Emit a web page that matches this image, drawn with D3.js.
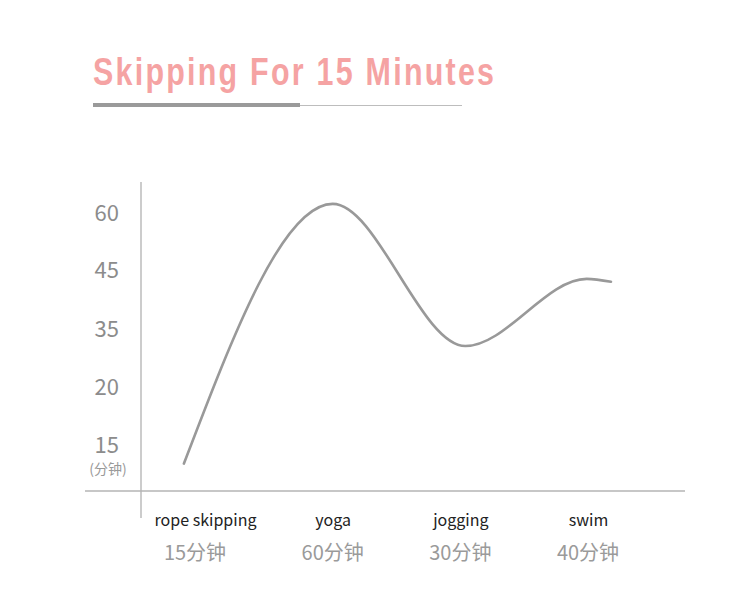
<!DOCTYPE html>
<html><head><meta charset="utf-8">
<script src="https://cdn.jsdelivr.net/npm/d3@7"></script>
<style>body{margin:0;background:#fff}svg{display:block}</style>
</head><body>
<svg id="c" width="750" height="611"></svg>
<script>
const title = "Skipping For 15 Minutes";
const categories = ["rope skipping", "yoga", "jogging", "swim"];
const durations = ["15分钟", "60分钟", "30分钟", "40分钟"];
const yTicks = [60, 45, 35, 20, 15];
const yUnit = "(分钟)";
// curve: position (category index) and value (minutes)
const curvePos = [-0.165, 1.0, 2.04, 2.99, 3.18];
const curveVal = [13.4, 62.4, 30.6, 43.5, 43.0];

const svg = d3.select("#c");
const x = d3.scaleLinear().domain([0, 3]).range([205, 588]);
const y = d3.scaleLinear().domain([15, 20, 35, 45, 60]).range([445, 387, 329, 270, 213]);

// title (condensed bold look)
const sx = 0.8;
svg.append("text").attr("transform", `translate(93,85) scale(${sx},1)`)
  .attr("font-family", "'Liberation Sans',Arial,sans-serif")
  .attr("font-weight", "bold").attr("font-size", 38)
  .attr("textLength", 401 / sx).attr("lengthAdjust", "spacing")
  .attr("fill", "#f5a3a3").text(title);
svg.append("line").attr("x1", 93).attr("x2", 300).attr("y1", 105).attr("y2", 105)
  .attr("stroke", "#9a9a9a").attr("stroke-width", 4);
svg.append("line").attr("x1", 300).attr("x2", 462).attr("y1", 105.5).attr("y2", 105.5)
  .attr("stroke", "#bdbdbd").attr("stroke-width", 1);

// axes lines
svg.append("line").attr("x1", 141).attr("x2", 141).attr("y1", 182).attr("y2", 518)
  .attr("stroke", "#aaa").attr("stroke-width", 1.2);
svg.append("line").attr("x1", 85).attr("x2", 685).attr("y1", 491).attr("y2", 491)
  .attr("stroke", "#b5b5b5").attr("stroke-width", 1.5);

// y axis labels
const ya = svg.append("g").attr("transform", "translate(141,0)")
  .call(d3.axisLeft(y).tickValues(yTicks).tickSize(0).tickPadding(22).tickFormat(d3.format("d")));
ya.select(".domain").remove();
ya.selectAll("text").attr("font-family", "'Noto Sans CJK SC','Noto Sans',sans-serif")
  .attr("font-size", 22).attr("fill", "#8c8c8c");
svg.append("text").attr("x", 108).attr("y", 469).attr("dy", "0.35em").attr("text-anchor", "middle")
  .attr("font-family", "'Noto Sans CJK SC',sans-serif").attr("font-size", 14)
  .attr("fill", "#999").text(yUnit);

// x axis labels
const xa = svg.append("g").attr("transform", "translate(0,491)")
  .call(d3.axisBottom(x).tickValues(d3.range(categories.length)).tickSize(0).tickPadding(24)
    .tickFormat(i => categories[i]));
xa.select(".domain").remove();
xa.selectAll("text").attr("font-family", "'Noto Sans CJK SC','Noto Sans',sans-serif")
  .attr("font-size", 16).attr("fill", "#222");
svg.append("g").selectAll("text").data(durations).join("text")
  .attr("x", (d, i) => x(i) + (i === 0 ? -10 : 0)).attr("y", 560).attr("text-anchor", "middle")
  .attr("font-family", "'Noto Sans CJK SC','Noto Sans',sans-serif")
  .attr("font-size", 20).attr("fill", "#9a9a9a").text(d => d);

// curve
const pts = curvePos.map((p, i) => [p, curveVal[i]]);
svg.append("path").datum(pts)
  .attr("d", d3.line().x(d => x(d[0])).y(d => y(d[1])).curve(d3.curveMonotoneX))
  .attr("fill", "none").attr("stroke", "#999").attr("stroke-width", 2.6)
  .attr("stroke-linecap", "round");
</script>
</body></html>
